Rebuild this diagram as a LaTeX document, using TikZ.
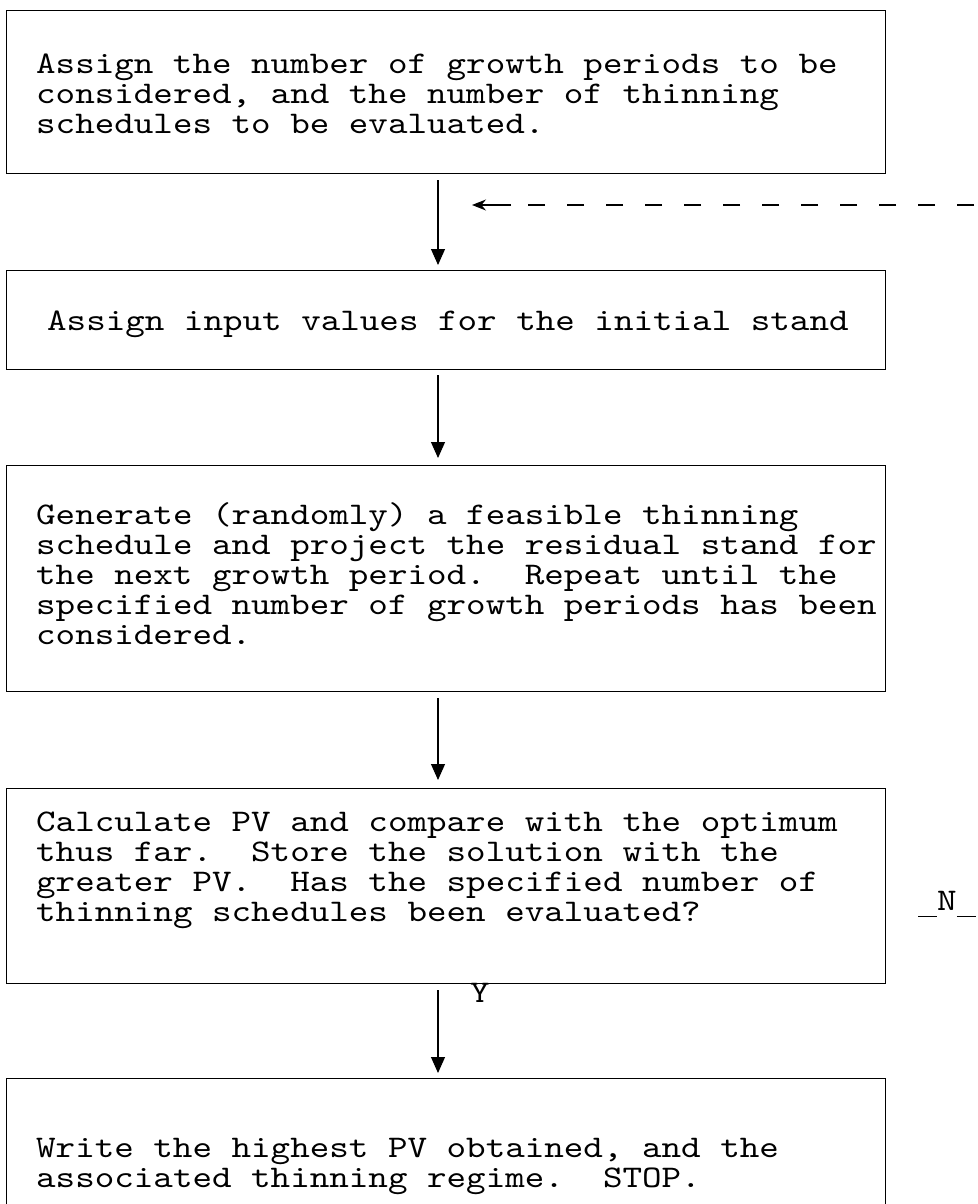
\documentclass[tikz,border=0pt]{standalone}
\usepackage{fontspec}
\newfontfamily\tw{lmmono10-regular.otf}[FakeStretch=1.182]
\usetikzlibrary{arrows.meta}
\newcommand{\twbar}{\rule[-7pt]{19pt}{1.3pt}}
\begin{document}
\begin{tikzpicture}[x=1pt,y=-1pt,
  box/.style={draw,line width=1.1pt,rectangle,inner sep=0pt,anchor=north west,minimum width=879pt},
  txt/.style={font=\tw\fontsize{31.5}{30}\selectfont,align=left,inner sep=0pt,anchor=west},
  lbl/.style={font=\tw\fontsize{31.5}{30}\selectfont,inner sep=0pt,anchor=base west},
  flow/.style={line width=1.1pt,-{Triangle[width=14pt,length=16pt]}},
  loopline/.style={line width=1.1pt,dash pattern=on 17pt off 22pt,dash phase=36pt},
  loophead/.style={line width=1.1pt,-{Stealth[length=14pt,width=11pt]}}]
\useasboundingbox (0,0) rectangle (977,1204);
\clip (0,0) rectangle (977,1204);
% boxes
\node[box,minimum height=163pt] (b1) at (6,10) {};
\node[box,minimum height=99pt] (b2) at (6,270) {};
\node[box,minimum height=226pt] (b3) at (6,465) {};
\node[box,minimum height=195pt] (b4) at (6,788) {};
\node[box,minimum height=160pt] (b5) at (6,1078) {};
% texts
\node[txt] (t1) at (36,94) {Assign the number of growth periods to be\\considered, and the number of thinning\\schedules to be evaluated.};
\node[txt] (t2) at (47,324) {Assign input values for the initial stand};
\node[txt] (t3) at (36,574) {Generate (randomly) a feasible thinning\\schedule and project the residual stand for\\the next growth period.\ \ Repeat until the\\specified number of growth periods has been\\considered.};
\node[txt] (t4) at (36,870) {Calculate PV and compare with the optimum\\thus far.\ \ Store the solution with the\\greater PV.\ \ Has the specified number of\\thinning schedules been evaluated?};
\node[txt] (t5) at (36,1166) {Write the highest PV obtained, and the\\associated thinning regime.\ \ STOP.};
% connectors
\coordinate (xc) at (438,0);
\draw[flow,shorten <=6pt,shorten >=5pt] (b1.south -| xc) -- (b2.north -| xc);
\draw[flow,shorten <=5pt,shorten >=7pt] (b2.south -| xc) -- (b3.north -| xc);
\draw[flow,shorten <=6pt,shorten >=8pt] (b3.south -| xc) -- (b4.north -| xc);
\draw[flow,shorten <=6pt,shorten >=5pt] (b4.south -| xc) -- (b5.north -| xc);
% return (dashed) arrow
\coordinate (dS) at (977,205);
\coordinate (dM) at (511,205);
\coordinate (dE) at (472,205);
\draw[loopline] (dS) -- (dM);
\draw[loophead] (dM) -- (dE);
% labels
\node[lbl] (ly) at (470,1002) {Y};
\node[lbl] (ln) at (918,910) {\twbar N\twbar};
\end{tikzpicture}
\end{document}
